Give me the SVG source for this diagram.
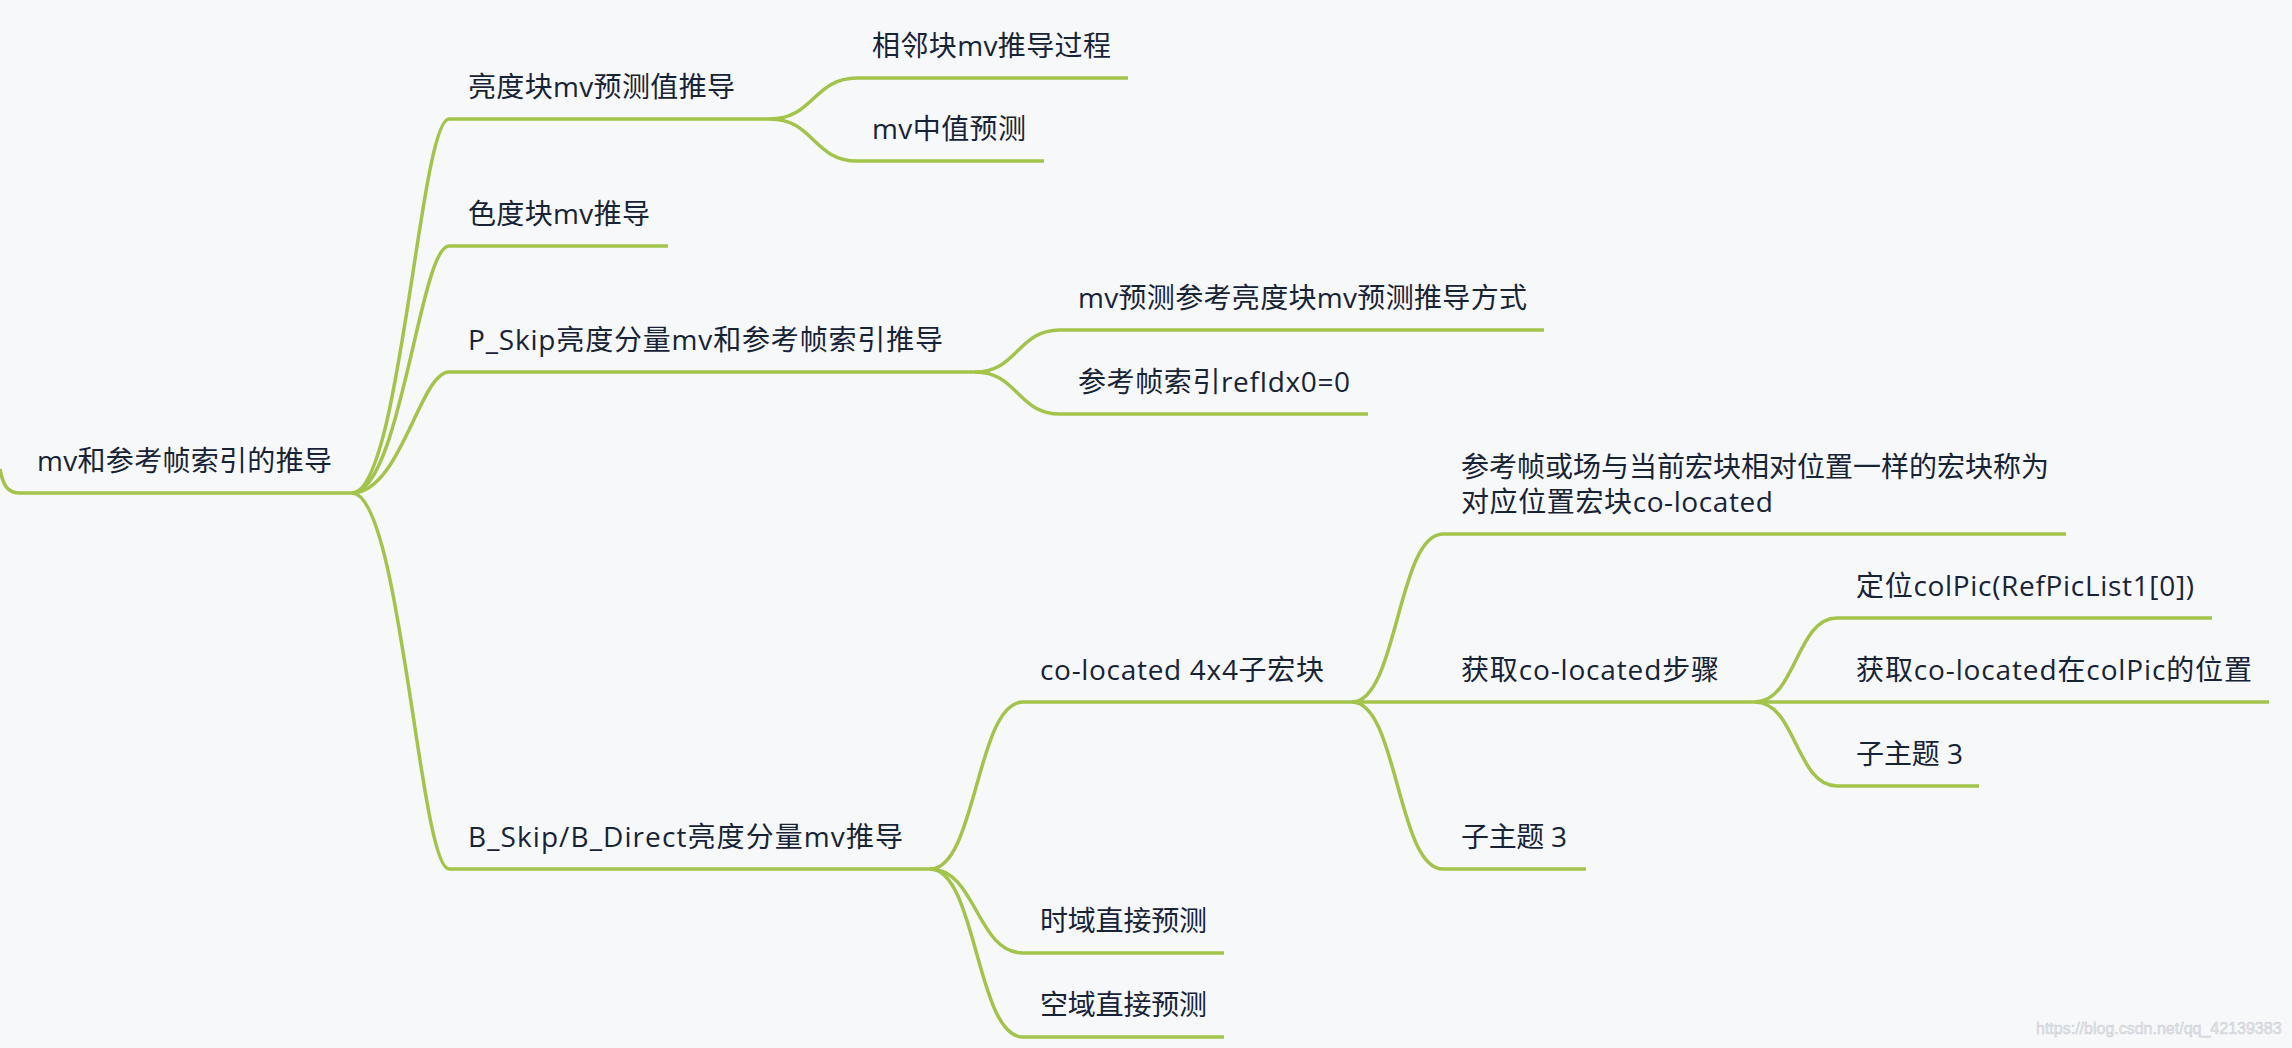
<svg xmlns="http://www.w3.org/2000/svg" width="2292" height="1048" viewBox="0 0 2292 1048">
<style>
.t{font-family:"Open Sans","Noto Sans CJK SC",sans-serif;font-size:28px;fill:#172337}
.u{stroke:#a2c44a;stroke-width:3.5;fill:none;stroke-linecap:butt}
.c{stroke:#a2c44a;stroke-width:3.5;fill:none}
.wm{font-family:"Liberation Sans",sans-serif;font-size:16px;fill:#e4e6ea;stroke:#c9cdd3;stroke-width:0.5}
</style>
<rect x="0" y="0" width="2292" height="1048" fill="#f7f8fa"/>
<g id="connectors">
<path class="c" d="M352 493 C400.5 493 420 119 449 119"/>
<path class="c" d="M352 493 C400.5 493 420 246 449 246"/>
<path class="c" d="M352 493 C400.5 493 420 372 449 372"/>
<path class="c" d="M352 493 C400.5 493 420 869 449 869"/>
<path class="c" d="M770 119 C813.5 119 813.5 78 857 78"/>
<path class="c" d="M770 119 C813.5 119 813.5 161 857 161"/>
<path class="c" d="M975 372 C1017.5 372 1017.5 330 1060 330"/>
<path class="c" d="M975 372 C1017.5 372 1017.5 414 1060 414"/>
<path class="c" d="M930 869 C976.5 869 976.5 702 1023 702"/>
<path class="c" d="M930 869 C976.5 869 976.5 953 1023 953"/>
<path class="c" d="M930 869 C976.5 869 976.5 1037 1023 1037"/>
<path class="c" d="M1352 702 C1397.5 702 1397.5 534 1443 534"/>
<path class="c" d="M1352 702 L1443 702"/>
<path class="c" d="M1352 702 C1397.5 702 1397.5 869 1443 869"/>
<path class="c" d="M1755 702 C1796 702 1796 618 1837 618"/>
<path class="c" d="M1755 702 L1837 702"/>
<path class="c" d="M1755 702 C1796 702 1796 786 1837 786"/>
</g>
<g id="root">
<path class="u" d="M0 469 C3 486 8 493 20 493 L352 493"/>
<text class="t" x="37" y="471" textLength="295" lengthAdjust="spacing">mv和参考帧索引的推导</text>
</g>
<g id="n-luma">
<line class="u" x1="449" y1="119" x2="770" y2="119"/>
<text class="t" x="468" y="97" textLength="267" lengthAdjust="spacing">亮度块mv预测值推导</text>
</g>
<g id="n-neighbor">
<line class="u" x1="857" y1="78" x2="1128" y2="78"/>
<text class="t" x="872" y="56" textLength="239" lengthAdjust="spacing">相邻块mv推导过程</text>
</g>
<g id="n-median">
<line class="u" x1="857" y1="161" x2="1044" y2="161"/>
<text class="t" x="872" y="139" textLength="154" lengthAdjust="spacing">mv中值预测</text>
</g>
<g id="n-chroma">
<line class="u" x1="449" y1="246" x2="668" y2="246"/>
<text class="t" x="468" y="224" textLength="182" lengthAdjust="spacing">色度块mv推导</text>
</g>
<g id="n-pskip">
<line class="u" x1="449" y1="372" x2="975" y2="372"/>
<text class="t" x="468" y="350" textLength="475" lengthAdjust="spacing">P_Skip亮度分量mv和参考帧索引推导</text>
</g>
<g id="n-pskip-mv">
<line class="u" x1="1060" y1="330" x2="1544" y2="330"/>
<text class="t" x="1078" y="308" textLength="449" lengthAdjust="spacing">mv预测参考亮度块mv预测推导方式</text>
</g>
<g id="n-pskip-ref">
<line class="u" x1="1060" y1="414" x2="1368" y2="414"/>
<text class="t" x="1078" y="392" textLength="272" lengthAdjust="spacing">参考帧索引refIdx0=0</text>
</g>
<g id="n-bskip">
<line class="u" x1="449" y1="869" x2="930" y2="869"/>
<text class="t" x="468" y="847" textLength="435" lengthAdjust="spacing">B_Skip/B_Direct亮度分量mv推导</text>
</g>
<g id="n-colocated">
<line class="u" x1="1023" y1="702" x2="1352" y2="702"/>
<text class="t" x="1040" y="680" textLength="284" lengthAdjust="spacing">co-located 4x4子宏块</text>
</g>
<g id="n-temporal">
<line class="u" x1="1023" y1="953" x2="1224" y2="953"/>
<text class="t" x="1040" y="931" textLength="167" lengthAdjust="spacing">时域直接预测</text>
</g>
<g id="n-spatial">
<line class="u" x1="1023" y1="1037" x2="1224" y2="1037"/>
<text class="t" x="1040" y="1015" textLength="167" lengthAdjust="spacing">空域直接预测</text>
</g>
<g id="n-def">
<line class="u" x1="1443" y1="534" x2="2066" y2="534"/>
<text class="t" x="1461" y="477" textLength="588" lengthAdjust="spacing">参考帧或场与当前宏块相对位置一样的宏块称为</text>
<text class="t" x="1461" y="512" textLength="312" lengthAdjust="spacing">对应位置宏块co-located</text>
</g>
<g id="n-steps">
<line class="u" x1="1443" y1="702" x2="1755" y2="702"/>
<text class="t" x="1461" y="680" textLength="258" lengthAdjust="spacing">获取co-located步骤</text>
</g>
<g id="n-sub3a">
<line class="u" x1="1443" y1="869" x2="1586" y2="869"/>
<text class="t" x="1461" y="847" textLength="106" lengthAdjust="spacing">子主题 3</text>
</g>
<g id="n-colpic">
<line class="u" x1="1837" y1="618" x2="2212" y2="618"/>
<text class="t" x="1856" y="596" textLength="338" lengthAdjust="spacing">定位colPic(RefPicList1[0])</text>
</g>
<g id="n-pos">
<line class="u" x1="1837" y1="702" x2="2269" y2="702"/>
<text class="t" x="1856" y="680" textLength="396" lengthAdjust="spacing">获取co-located在colPic的位置</text>
</g>
<g id="n-sub3b">
<line class="u" x1="1837" y1="786" x2="1979" y2="786"/>
<text class="t" x="1856" y="764" textLength="107" lengthAdjust="spacing">子主题 3</text>
</g>
<text class="wm" x="2036" y="1034">https://blog.csdn.net/qq_42139383</text>
</svg>
